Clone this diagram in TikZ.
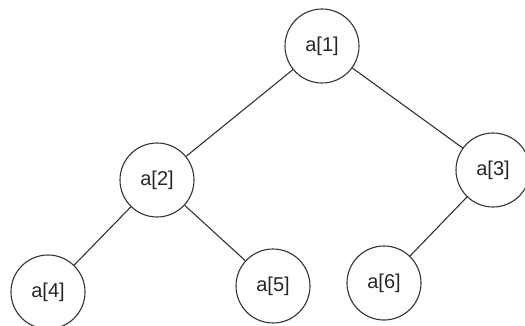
\documentclass[tikz,border=0pt]{standalone}
\usepackage{fontspec}
\setmainfont{Liberation Sans}

\begin{document}
\begin{tikzpicture}[
    x=1pt, y=-1pt,
    every node/.style={draw=black!80, circle, line width=1.1pt,
                       minimum size=74pt, inner sep=0pt,
                       text=black!85, font=\fontsize{20}{24}\selectfont},
    edge/.style={draw=black!80, line width=1.1pt}]

\useasboundingbox (0,0) rectangle (525,326);

\node (a1) at (322,46)  {a[1]};
\node (a2) at (157,180) {a[2]};
\node (a3) at (493,170) {a[3]};
\node (a4) at (48,292)  {a[4]};
\node (a5) at (273,286) {a[5]};
\node (a6) at (384,283) {a[6]};

\draw[edge] (a1) -- (a2);
\draw[edge] (a1) -- (a3);
\draw[edge] (a2) -- (a4);
\draw[edge] (a2) -- (a5);
\draw[edge] (a3) -- (a6);

\end{tikzpicture}
\end{document}
